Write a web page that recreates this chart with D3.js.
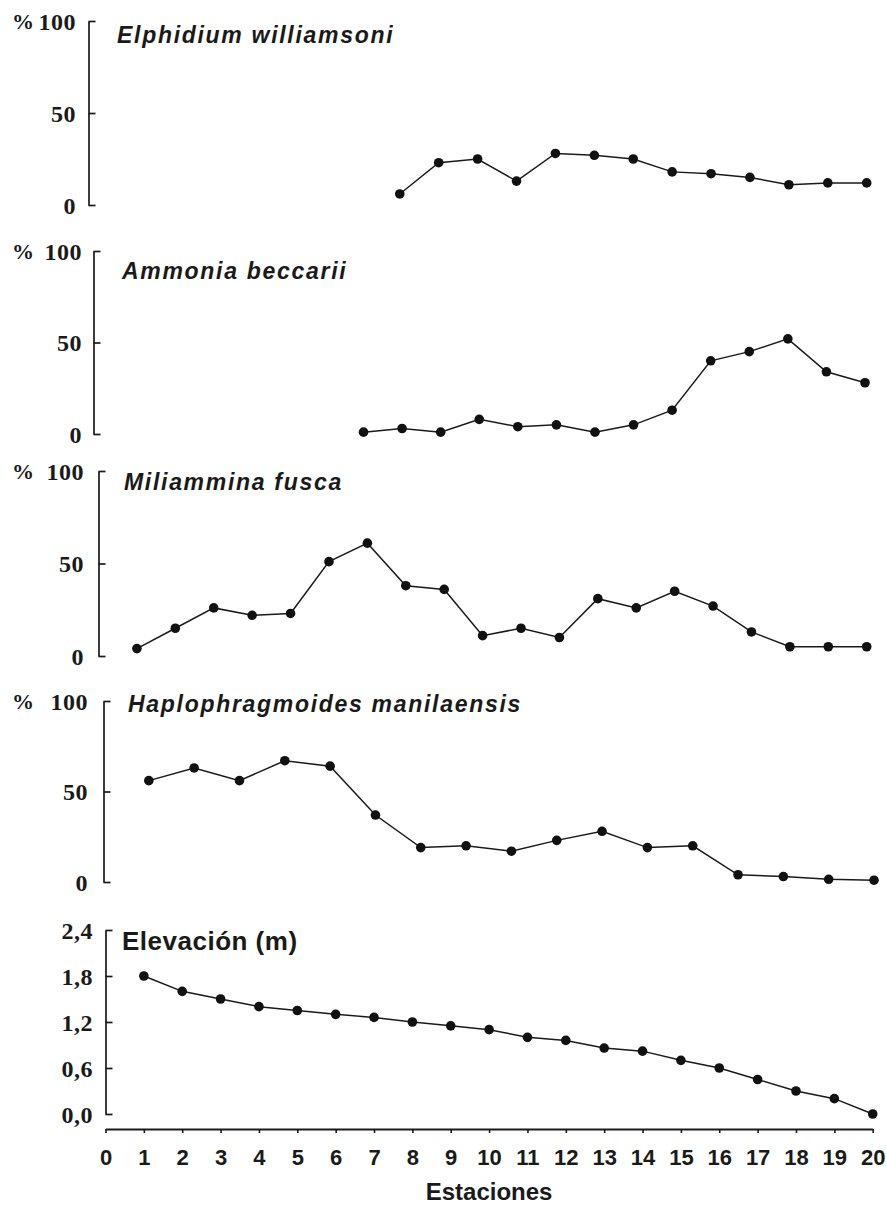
<!DOCTYPE html>
<html>
<head>
<meta charset="utf-8">
<script src="https://cdn.jsdelivr.net/npm/d3@7"></script>
<style>
  html, body { margin: 0; padding: 0; background: #fff; }
  svg { display: block; }
</style>
</head>
<body>
<svg id="chart" width="886" height="1208"></svg>
<script>
// ---- DATA ----
const stations = d3.range(0, 21);                 // x-axis tick values 0..20
const stationLabels = stations.map(String);
const pctTicks = [0, 50, 100];
const elevTicks = [0, 0.6, 1.2, 1.8, 2.4];

const elphidiumStations = [8, 9, 10, 11, 12, 13, 14, 15, 16, 17, 18, 19, 20];
const elphidiumValues   = [6, 23, 25, 13, 28, 27, 25, 18, 17, 15, 11, 12, 12];

const ammoniaStations = [7, 8, 9, 10, 11, 12, 13, 14, 15, 16, 17, 18, 19, 20];
const ammoniaValues   = [1, 3, 1, 8, 4, 5, 1, 5, 13, 40, 45, 52, 34, 28];

const miliamminaStations = d3.range(1, 21);
const miliamminaValues   = [4, 15, 26, 22, 23, 51, 61, 38, 36, 11, 15, 10, 31, 26, 35, 27, 13, 5, 5, 5];

const haploPoints = d3.range(1, 18);
const haploValues = [56, 63, 56, 67, 64, 37, 19, 20, 17, 23, 28, 19, 20, 4, 3, 1.5, 1];

const elevStations = d3.range(1, 21);
const elevValues   = [1.80, 1.60, 1.50, 1.40, 1.35, 1.30, 1.26, 1.20, 1.15, 1.10, 1.00, 0.96, 0.86, 0.82, 0.70, 0.60, 0.45, 0.30, 0.20, 0.00];

const titles = ["Elphidium williamsoni", "Ammonia beccarii", "Miliammina fusca", "Haplophragmoides manilaensis", "Elevación (m)"];
const xTitle = "Estaciones";

// ---- DRAWING ----
const svg = d3.select("#chart");
const INK = "#1a1a1a";
const serif = "'Liberation Serif', 'Times New Roman', serif";
const sans = "'Liberation Sans', Arial, sans-serif";
const comma = d3.formatLocale({decimal: ",", thousands: ".", grouping: [3], currency: ["", ""]});

const panels = [
  {xs: elphidiumStations, ys: elphidiumValues, xDom: [0, 20], xR: [88.5, 866.7], axisX: 88.5, yTop: 21, yBot: 205, dom: [0, 100], ticks: pctTicks, labEnd: 76, title: titles[0], tx: 117, ty: 43, pct: true},
  {xs: ammoniaStations, ys: ammoniaValues, xDom: [0, 20], xR: [93.5, 865], axisX: 93.5, yTop: 251, yBot: 434, dom: [0, 100], ticks: pctTicks, labEnd: 82, title: titles[1], tx: 122, ty: 279, pct: true},
  {xs: miliamminaStations, ys: miliamminaValues, xDom: [0, 20], xR: [98.5, 866.7], axisX: 98.5, yTop: 471, yBot: 656, dom: [0, 100], ticks: pctTicks, labEnd: 84, title: titles[2], tx: 124, ty: 490, pct: true},
  {xs: haploPoints, ys: haploValues, xDom: [0, 17], xR: [103.5, 874], axisX: 103.5, yTop: 701, yBot: 882, dom: [0, 100], ticks: pctTicks, labEnd: 88, title: titles[3], tx: 128, ty: 712, pct: true},
  {xs: elevStations, ys: elevValues, xDom: [0, 20], xR: [105.5, 872.7], axisX: 105.5, yTop: 930, yBot: 1114, dom: [0, 2.4], ticks: elevTicks, labEnd: 93, title: titles[4], tx: 122, ty: 950, pct: false}
];

panels.forEach(p => {
  const x = d3.scaleLinear().domain(p.xDom).range(p.xR);
  const y = d3.scaleLinear().domain(p.dom).range([p.yBot, p.yTop]);

  const axis = d3.axisLeft(y)
    .tickValues(p.ticks)
    .tickSizeInner(-7)
    .tickSizeOuter(0)
    .tickPadding(p.axisX - p.labEnd)
    .tickFormat(p.pct ? d3.format("d") : comma.format(".1f"));

  const g = svg.append("g").attr("transform", `translate(${p.axisX},0)`).call(axis);
  g.select(".domain").attr("stroke", INK).attr("stroke-width", 1.7);
  g.selectAll(".tick line").attr("stroke", INK).attr("stroke-width", 1.7);
  g.selectAll(".tick text")
    .attr("fill", INK)
    .attr("dy", "0.35em")
    .style("font-family", serif)
    .style("font-weight", "bold")
    .style("font-size", "24px")
    .style("letter-spacing", "0.5px");

  if (p.pct) {
    svg.append("text")
      .attr("x", 12).attr("y", y(100))
      .attr("dy", "0.35em")
      .attr("fill", INK)
      .style("font-family", serif).style("font-weight", "bold").style("font-size", "22px")
      .text("%");
  }

  // title
  svg.append("text")
    .attr("x", p.tx).attr("y", p.ty)
    .attr("fill", INK)
    .style("font-family", sans)
    .style("font-weight", "bold")
    .style("font-style", p.pct ? "italic" : "normal")
    .style("font-size", p.pct ? "23px" : "26px")
    .style("letter-spacing", p.pct ? "1.7px" : "0.5px")
    .text(p.title);

  const pts = p.xs.map((s, i) => [s, p.ys[i]]);
  const line = d3.line().x(d => x(d[0])).y(d => y(d[1]));
  svg.append("path")
    .datum(pts)
    .attr("d", line)
    .attr("fill", "none")
    .attr("stroke", INK)
    .attr("stroke-width", 1.5);

  svg.append("g").selectAll("circle")
    .data(pts)
    .join("circle")
    .attr("cx", d => x(d[0]))
    .attr("cy", d => y(d[1]))
    .attr("r", 4.8)
    .attr("fill", "#111");

  if (!p.pct) {
    // x axis
    const xa = d3.axisBottom(x)
      .tickValues(stations)
      .tickFormat((d, i) => stationLabels[i])
      .tickSizeInner(4)
      .tickSizeOuter(0)
      .tickPadding(16);
    const gx = svg.append("g").attr("transform", "translate(0,1129)").call(xa);
    gx.select(".domain").attr("stroke", INK).attr("stroke-width", 1.8);
    gx.selectAll(".tick line").attr("stroke", INK).attr("stroke-width", 1.6);
    gx.selectAll(".tick text")
      .attr("fill", INK)
      .style("font-family", sans)
      .style("font-weight", "bold")
      .style("font-size", "22px");

    svg.append("text")
      .attr("x", (x(0) + x(20)) / 2)
      .attr("y", 1200)
      .attr("text-anchor", "middle")
      .attr("fill", INK)
      .style("font-family", sans)
      .style("font-weight", "bold")
      .style("font-size", "24px")
      .text(xTitle);
  }
});
</script>
</body>
</html>
